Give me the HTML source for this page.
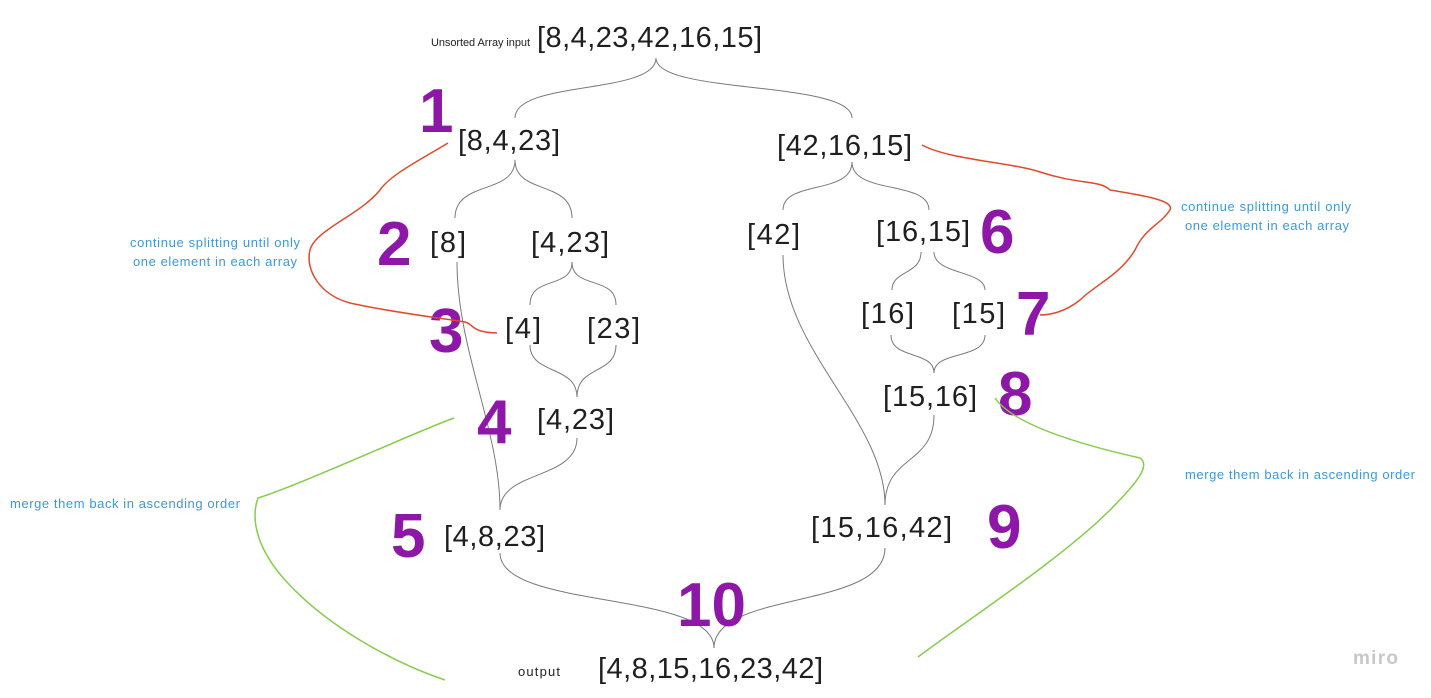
<!DOCTYPE html>
<html><head><meta charset="utf-8"><style>
html,body{margin:0;padding:0;background:#fff;}
svg{display:block;}
.arr{font-family:"Liberation Sans",sans-serif;font-size:29px;fill:#1f1f1f;}
.num{font-family:"Liberation Sans",sans-serif;font-size:62px;font-weight:bold;fill:#8d17a6;}
.note{font-family:"Liberation Sans",sans-serif;font-size:13px;fill:#3a9ad9;}
.sm{font-family:"Liberation Sans",sans-serif;font-size:11px;fill:#222;}
.g{fill:none;stroke:#7a7a7a;stroke-width:1;}
.red{fill:none;stroke:#e04a2a;stroke-width:1.5;}
.grn{fill:none;stroke:#86cc4a;stroke-width:1.5;}
</style></head><body>
<svg width="1431" height="698" viewBox="0 0 1431 698">
<text class="sm" x="431" y="46" textLength="99">Unsorted Array input</text>
<text class="arr" x="537" y="47" textLength="225">[8,4,23,42,16,15]</text>

<g>
<path class="g" d="M656,58 C656,95 515,80 515,118"/>
<path class="g" d="M656,58 C656,95 852,80 852,118"/>
<path class="g" d="M515,160 C515,195 455,180 455,218"/>
<path class="g" d="M515,160 C515,195 572,180 572,218"/>
<path class="g" d="M852,162 C852,195 783,180 783,210"/>
<path class="g" d="M852,162 C852,195 929,180 929,210"/>
<path class="g" d="M572,262 C572,290 530,275 530,305"/>
<path class="g" d="M572,262 C572,290 616,275 616,305"/>
<path class="g" d="M921,252 C921,275 892,270 892,290"/>
<path class="g" d="M934,252 C934,275 985,270 985,290"/>
<path class="g" d="M530,345 C530,375 577,365 577,397"/>
<path class="g" d="M616,345 C616,375 577,365 577,397"/>
<path class="g" d="M891,335 C891,360 934,350 934,373"/>
<path class="g" d="M985,335 C985,360 934,350 934,373"/>
<path class="g" d="M457,262 C457,350 500,430 500,510"/>
<path class="g" d="M577,438 C577,480 500,470 500,510"/>
<path class="g" d="M783,255 C783,350 885,420 885,505"/>
<path class="g" d="M934,415 C934,465 885,455 885,505"/>
<path class="g" d="M500,553 C500,610 714,590 714,648"/>
<path class="g" d="M885,548 C885,610 714,590 714,648"/>
</g>

<g>
<text class="arr" x="458" y="150" textLength="102">[8,4,23]</text>
<text class="arr" x="777" y="155" textLength="135">[42,16,15]</text>
<text class="arr" x="430" y="252" textLength="36">[8]</text>
<text class="arr" x="531" y="252" textLength="78">[4,23]</text>
<text class="arr" x="747" y="244" textLength="53">[42]</text>
<text class="arr" x="876" y="241" textLength="94">[16,15]</text>
<text class="arr" x="505" y="338" textLength="36">[4]</text>
<text class="arr" x="587" y="338" textLength="53">[23]</text>
<text class="arr" x="861" y="323" textLength="53">[16]</text>
<text class="arr" x="952" y="323" textLength="53">[15]</text>
<text class="arr" x="537" y="429" textLength="77">[4,23]</text>
<text class="arr" x="883" y="406" textLength="94">[15,16]</text>
<text class="arr" x="444" y="546" textLength="101">[4,8,23]</text>
<text class="arr" x="811" y="537" textLength="141">[15,16,42]</text>
<text class="arr" x="598" y="678" textLength="225">[4,8,15,16,23,42]</text>
<text class="sm" x="518" y="676" style="font-size:13px" textLength="42">output</text>
</g>

<g>
<text class="num" x="419" y="132">1</text>
<text class="num" x="377" y="265">2</text>
<text class="num" x="429" y="352">3</text>
<text class="num" x="477" y="443">4</text>
<text class="num" x="391" y="557">5</text>
<text class="num" x="980" y="253">6</text>
<text class="num" x="1016" y="335">7</text>
<text class="num" x="998" y="415">8</text>
<text class="num" x="987" y="548">9</text>
<text class="num" x="677" y="626">10</text>
</g>

<g>
<text class="note" x="130" y="247" textLength="170">continue splitting until only</text>
<text class="note" x="133" y="266" textLength="164">one element in each array</text>
<text class="note" x="1181" y="211" textLength="170">continue splitting until only</text>
<text class="note" x="1185" y="230" textLength="164">one element in each array</text>
<text class="note" x="10" y="508" textLength="230">merge them back in ascending order</text>
<text class="note" x="1185" y="479" textLength="230">merge them back in ascending order</text>
<text x="1353" y="664" style="font-family:'Liberation Sans',sans-serif;font-size:19px;font-weight:bold;fill:#c8c8c8" textLength="45">miro</text>
</g>

<g>
<path class="red" d="M448,143 C420,160 390,175 380,190 C360,215 315,230 310,250 C305,270 320,295 350,303 C390,312 440,318 465,322 C475,325 470,332 497,333"/>
<path class="red" d="M922,145 C950,160 1010,162 1040,172 C1080,185 1100,180 1110,190 C1140,195 1175,200 1170,210 C1160,225 1145,228 1135,250 C1120,275 1095,285 1080,300 C1065,312 1050,315 1040,315"/>
<path class="grn" d="M454,418 C420,430 300,485 258,498 C250,520 258,550 285,580 C330,630 400,665 445,680"/>
<path class="grn" d="M995,398 C1010,420 1060,440 1140,458 C1150,465 1140,480 1110,510 C1060,560 960,625 918,657"/>
</g>
</svg>
</body></html>
